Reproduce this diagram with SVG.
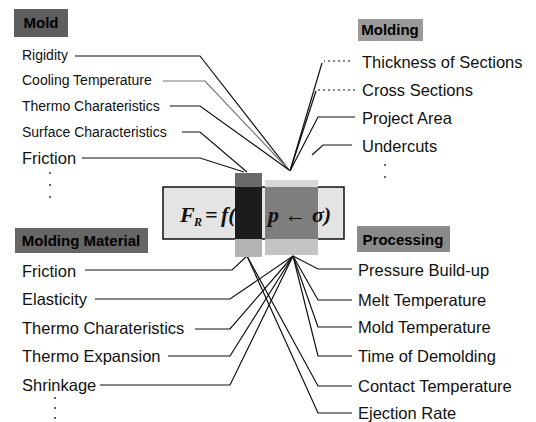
<svg xmlns="http://www.w3.org/2000/svg" width="536" height="422" viewBox="0 0 536 422">
<defs>
<style>
.t{font-family:"Liberation Sans",Arial,sans-serif;font-size:16.5px;fill:#111}
.s{font-size:14px}
.h{font-family:"Liberation Sans",Arial,sans-serif;font-weight:bold;font-size:15px;fill:#000}
.c{fill:none;stroke:#111;stroke-width:1.2}
.g{stroke:#777}
.d{stroke-dasharray:2 3}
.dot{fill:#333}
.f{font-family:"Liberation Serif","Times New Roman",serif;font-style:italic;font-weight:bold;fill:#111}
</style>
</defs>
<rect width="536" height="422" fill="#fff"/>

<g id="connectors">
<path class="c" d="M75,56 H200 L289,170"/>
<path class="c g" d="M163,81 H205 L289,170"/>
<path class="c" d="M170,106 H200 L289,170"/>
<path class="c" d="M182,132 H200 L247,172"/>
<path class="c" d="M82,158 H200 L244,172"/>
<path class="c d" d="M350,61 H324"/>
<path class="c" d="M322,63 L290,171"/>
<path class="c d" d="M355,90 H318"/>
<path class="c" d="M316,91 L290,171"/>
<path class="c" d="M355,117 H318 L290,171"/>
<path class="c" d="M352,145 H323 L312,155"/>
<path class="c" d="M85,270 H232 L247,256"/>
<path class="c" d="M95,299 H230 L293,256"/>
<path class="c" d="M195,329 H230 L293,256"/>
<path class="c" d="M168,356 H230 L293,256"/>
<path class="c" d="M100,385 H230 L293,256"/>
<path class="c" d="M352,269 H318 L293,256"/>
<path class="c" d="M352,300 H318 L293,256"/>
<path class="c" d="M352,327 H318 L293,256"/>
<path class="c" d="M352,356 H318 L293,256"/>
<path class="c" d="M352,386 H318 L247,256"/>
<path class="c" d="M352,413 H318 L247,256"/>
</g>

<g id="formula">
<rect x="163" y="187" width="181" height="52" fill="#e4e4e4" stroke="#111" stroke-width="1.5"/>
<rect x="265" y="180" width="53" height="7" fill="#d8d8d8"/>
<rect x="265" y="187" width="53" height="52" fill="#7e7e7e"/>
<rect x="265" y="239" width="53" height="16" fill="#c4c4c4"/>
<rect x="235" y="173" width="27" height="14" fill="#6a6a6a"/>
<rect x="235" y="187" width="27" height="52" fill="#1c1c1c"/>
<rect x="235" y="239" width="27" height="18" fill="#b4b4b4"/>
<text class="f" x="180" y="222" font-size="22">F</text>
<text class="f" x="194" y="226" font-size="12">R</text>
<text class="f" x="205" y="222" font-size="22" font-style="normal">=</text>
<text class="f" x="221" y="222" font-size="22">f(</text>
<text class="f" x="268" y="222" font-size="22">p<tspan font-style="normal"> ← </tspan>σ)</text>
</g>

<g id="mold">
<rect x="14" y="9" width="54" height="28" fill="#5e5e5e"/>
<text class="h" x="41" y="28" text-anchor="middle">Mold</text>
<text class="t s" x="22" y="60">Rigidity</text>
<text class="t s" x="22" y="85">Cooling Temperature</text>
<text class="t s" x="22" y="111">Thermo Charateristics</text>
<text class="t s" x="22" y="137">Surface Characteristics</text>
<text class="t" x="22" y="164">Friction</text>
<circle class="dot" cx="50" cy="173" r="1"/>
<circle class="dot" cx="50" cy="185" r="1"/>
<circle class="dot" cx="50" cy="197" r="1"/>
</g>

<g id="molding">
<rect x="358" y="19" width="65" height="22" fill="#9a9a9a"/>
<text class="h" x="390" y="35" text-anchor="middle">Molding</text>
<text class="t" x="362" y="68">Thickness of Sections</text>
<text class="t" x="362" y="96">Cross Sections</text>
<text class="t" x="362" y="124">Project Area</text>
<text class="t" x="362" y="152">Undercuts</text>
<circle class="dot" cx="385" cy="165" r="1"/>
<circle class="dot" cx="385" cy="177" r="1"/>
</g>

<g id="molding-material">
<rect x="15" y="228" width="133" height="25" fill="#666"/>
<text class="h" x="81" y="246" text-anchor="middle">Molding Material</text>
<text class="t" x="22" y="277">Friction</text>
<text class="t" x="22" y="305">Elasticity</text>
<text class="t" x="22" y="334">Thermo Charateristics</text>
<text class="t" x="22" y="362">Thermo Expansion</text>
<text class="t" x="22" y="391">Shrinkage</text>
<circle class="dot" cx="55" cy="398" r="1"/>
<circle class="dot" cx="55" cy="408" r="1"/>
<circle class="dot" cx="55" cy="418" r="1"/>
</g>

<g id="processing">
<rect x="357" y="226" width="93" height="26" fill="#8a8a8a"/>
<text class="h" x="403" y="245" text-anchor="middle">Processing</text>
<text class="t" x="358" y="276">Pressure Build-up</text>
<text class="t" x="358" y="306">Melt Temperature</text>
<text class="t" x="358" y="333">Mold Temperature</text>
<text class="t" x="358" y="362">Time of Demolding</text>
<text class="t" x="358" y="392">Contact Temperature</text>
<text class="t" x="358" y="419">Ejection Rate</text>
</g>
</svg>
